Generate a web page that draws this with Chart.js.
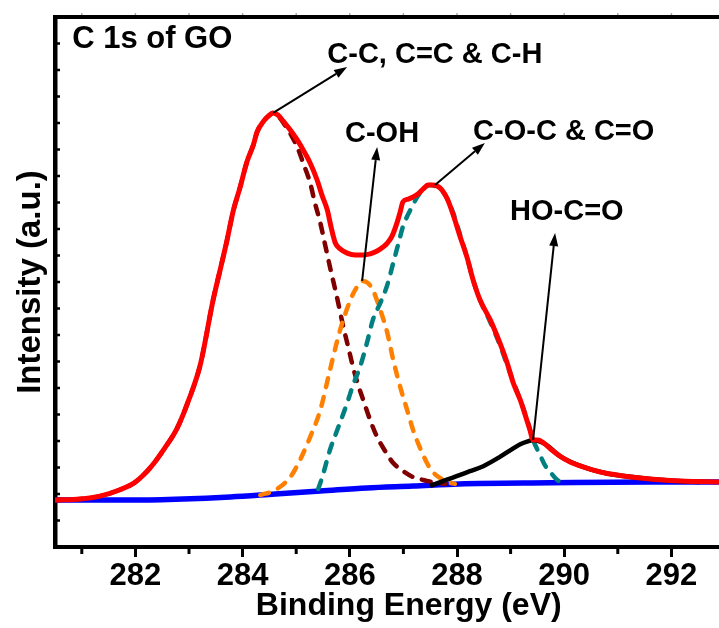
<!DOCTYPE html>
<html>
<head>
<meta charset="utf-8">
<script src="https://cdn.jsdelivr.net/npm/chart.js@4.4.1/dist/chart.umd.min.js"></script>
<style>
  html, body { margin: 0; padding: 0; background: #fff; }
  #wrap { width: 719px; height: 628px; overflow: hidden; position: relative; }
  canvas { display: block; }
</style>
</head>
<body>
<div id="wrap"><canvas id="c" width="740" height="628"></canvas></div>
<script>
// ---- Data (binding energy in eV, intensity in a.u.) ----
const X_TICK_LABELS = [282, 284, 286, 288, 290, 292];
const X_MINOR_TICKS = [281, 283, 285, 287, 289, 291, 293];
const X_TOP_TICKS = [281, 282, 283, 284, 285, 286, 287, 288, 289, 290, 291, 292, 293];

const ENERGY_TOTAL = [280.50, 280.97, 281.34, 281.70, 282.00, 282.29, 282.55, 282.78, 282.98, 283.21, 283.45, 283.58, 283.71, 283.82, 283.95, 284.08, 284.20, 284.27, 284.38, 284.48, 284.57, 284.66, 284.77, 284.89, 285.02, 285.13, 285.26, 285.39, 285.48, 285.58, 285.65, 285.73, 285.82, 285.95, 286.10, 286.25, 286.38, 286.51, 286.62, 286.70, 286.79, 286.88, 286.94, 286.99, 287.09, 287.18, 287.27, 287.37, 287.46, 287.54, 287.63, 287.72, 287.82, 287.93, 288.06, 288.19, 288.30, 288.43, 288.62, 288.80, 288.93, 289.05, 289.18, 289.29, 289.36, 289.42, 289.51, 289.64, 289.77, 289.92, 290.11, 290.30, 290.48, 290.76, 291.10, 291.60, 292.16, 293.00];
const INTENSITY_TOTAL = [1.77, 1.81, 1.92, 2.15, 2.45, 3.02, 3.74, 4.49, 5.47, 6.87, 9.32, 10.45, 11.58, 12.64, 13.55, 14.53, 15.17, 15.66, 16.04, 16.26, 16.38, 16.30, 16.04, 15.74, 15.36, 14.98, 14.49, 13.85, 13.28, 12.72, 12.08, 11.47, 11.25, 11.09, 11.02, 11.02, 11.06, 11.17, 11.32, 11.47, 11.74, 12.23, 12.64, 13.02, 13.13, 13.21, 13.32, 13.51, 13.66, 13.66, 13.62, 13.47, 13.13, 12.53, 11.70, 10.91, 10.08, 9.32, 8.57, 7.70, 6.98, 6.19, 5.55, 4.87, 4.42, 4.04, 4.04, 3.89, 3.66, 3.43, 3.21, 3.06, 2.94, 2.79, 2.68, 2.57, 2.49, 2.45];

const ENERGY_BACKGROUND = [280.50, 282.00, 282.89, 283.77, 284.61, 285.45, 286.32, 287.18, 288.04, 289.74, 291.60, 293.00];
const INTENSITY_BACKGROUND = [1.77, 1.77, 1.81, 1.89, 2.00, 2.11, 2.23, 2.30, 2.38, 2.42, 2.45, 2.45];

const ENERGY_CC = [280.50, 280.97, 281.34, 281.70, 282.00, 282.29, 282.55, 282.78, 282.98, 283.21, 283.45, 283.58, 283.71, 283.82, 283.95, 284.08, 284.20, 284.27, 284.38, 284.48, 284.57, 284.79, 285.02, 285.13, 285.26, 285.35, 285.45, 285.54, 285.63, 285.76, 285.88, 285.97, 286.06, 286.15, 286.25, 286.38, 286.51, 286.66, 286.81, 286.99, 287.18, 287.37, 287.55, 287.78];
const INTENSITY_CC = [1.77, 1.81, 1.92, 2.15, 2.45, 3.02, 3.74, 4.49, 5.47, 6.87, 9.32, 10.45, 11.58, 12.64, 13.55, 14.53, 15.17, 15.66, 16.04, 16.26, 16.38, 15.92, 15.09, 14.49, 13.74, 12.98, 12.23, 11.40, 10.57, 9.43, 8.30, 7.55, 6.79, 6.15, 5.55, 4.79, 4.15, 3.62, 3.17, 2.87, 2.64, 2.53, 2.45, 2.38];

const ENERGY_COH = [284.33, 284.61, 284.89, 285.07, 285.26, 285.45, 285.63, 285.82, 286.01, 286.12, 286.23, 286.34, 286.43, 286.57, 286.70, 286.81, 286.94, 287.07, 287.18, 287.31, 287.44, 287.55, 287.69, 287.82, 287.96];
const INTENSITY_COH = [1.96, 2.15, 2.64, 3.28, 4.15, 5.17, 6.68, 8.19, 9.32, 9.77, 10.04, 9.96, 9.70, 8.94, 8.08, 7.06, 6.04, 5.17, 4.42, 3.74, 3.17, 2.83, 2.60, 2.45, 2.38];

const ENERGY_COC = [285.41, 285.48, 285.63, 285.78, 285.95, 286.06, 286.19, 286.32, 286.43, 286.57, 286.70, 286.81, 286.90, 286.99, 287.13, 287.26, 287.37, 287.50, 287.63, 287.78, 287.93, 288.06, 288.19, 288.30, 288.43, 288.62, 288.80, 288.99, 289.18, 289.31, 289.42, 289.55, 289.64, 289.74, 289.87, 289.98];
const INTENSITY_COC = [2.19, 2.60, 3.66, 4.49, 5.43, 6.11, 6.79, 7.70, 8.57, 9.21, 9.89, 10.72, 11.40, 12.08, 12.72, 13.21, 13.51, 13.66, 13.58, 13.28, 12.60, 11.77, 10.91, 10.08, 9.32, 8.49, 7.62, 6.57, 5.55, 4.79, 4.04, 3.47, 3.09, 2.83, 2.53, 2.42];

const ENERGY_COOH = [287.50, 287.69, 287.87, 288.06, 288.24, 288.49, 288.80, 289.05, 289.18, 289.31, 289.42, 289.64, 289.92, 290.30, 290.76, 291.60, 292.54];
const INTENSITY_COOH = [2.30, 2.45, 2.58, 2.72, 2.86, 3.05, 3.40, 3.72, 3.88, 3.98, 4.04, 3.89, 3.43, 3.06, 2.79, 2.57, 2.45];

// Text labels and arrows (anchored in data coordinates)
const PANEL_LABEL = 'C 1s of GO';
const PEAK_LABELS = ['C-C, C=C & C-H', 'C-OH', 'C-O-C & C=O', 'HO-C=O'];
const X_TITLE = 'Binding Energy (eV)';
const Y_TITLE = 'Intensity (a.u.)';

const toXY = (xs, ys) => xs.map((x, i) => ({ x: x, y: ys[i] }));

const annotationLayout = {
  panel: { x: 280.82, y: 18.83 },
  labels: [
    { x: 285.58, y: 18.26 },
    { x: 285.91, y: 15.28 },
    { x: 288.30, y: 15.36 },
    { x: 288.99, y: 12.34 }
  ],
  arrows: [
    { from: [284.57, 16.38], to: [285.95, 18.11] },
    { from: [286.23, 10.04], to: [286.51, 15.09] },
    { from: [287.59, 13.66], to: [288.52, 15.25] },
    { from: [289.42, 4.04], to: [289.83, 11.85] }
  ],
  xTitleCenter: 287.1
};

const FONT_FAMILY = '"Liberation Sans", Arial, Helvetica, sans-serif';

const decorPlugin = {
  id: 'decor',
  afterDraw(chart) {
    const { ctx, chartArea, scales } = chart;
    const xs = scales.x, ys = scales.y;
    ctx.save();
    // top frame line
    ctx.strokeStyle = '#000';
    ctx.lineWidth = 4;
    ctx.beginPath();
    ctx.moveTo(chartArea.left - 2, chartArea.top);
    ctx.lineTo(chartArea.right + 2, chartArea.top);
    ctx.stroke();
    // top faint ticks
    ctx.strokeStyle = '#aaa';
    ctx.lineWidth = 1.5;
    X_TOP_TICKS.forEach(v => {
      const px = xs.getPixelForValue(v);
      ctx.beginPath();
      ctx.moveTo(px, chartArea.top - 2);
      ctx.lineTo(px, chartArea.top - 4);
      ctx.stroke();
    });
    // bottom minor ticks (outward)
    ctx.strokeStyle = '#000';
    ctx.lineWidth = 3;
    X_MINOR_TICKS.forEach(v => {
      const px = xs.getPixelForValue(v);
      ctx.beginPath();
      ctx.moveTo(px, chartArea.bottom);
      ctx.lineTo(px, chartArea.bottom + 7);
      ctx.stroke();
    });
    // left inward ticks
    ctx.lineWidth = 2.5;
    ys.ticks.forEach(t => {
      if (t.value <= ys.min || t.value >= ys.max) return;
      const py = ys.getPixelForValue(t.value);
      ctx.beginPath();
      ctx.moveTo(chartArea.left, py);
      ctx.lineTo(chartArea.left + 5, py);
      ctx.stroke();
    });
    // arrows
    ctx.strokeStyle = '#000';
    ctx.fillStyle = '#000';
    ctx.lineWidth = 2;
    annotationLayout.arrows.forEach(a => {
      const x1 = xs.getPixelForValue(a.from[0]), y1 = ys.getPixelForValue(a.from[1]);
      const x2 = xs.getPixelForValue(a.to[0]), y2 = ys.getPixelForValue(a.to[1]);
      const ang = Math.atan2(y2 - y1, x2 - x1);
      const hl = 13, hw = 4.5;
      const bx = x2 - hl * Math.cos(ang), by = y2 - hl * Math.sin(ang);
      ctx.beginPath();
      ctx.moveTo(x1, y1);
      ctx.lineTo(bx, by);
      ctx.stroke();
      ctx.beginPath();
      ctx.moveTo(x2, y2);
      ctx.lineTo(bx + hw * Math.sin(ang), by - hw * Math.cos(ang));
      ctx.lineTo(bx - hw * Math.sin(ang), by + hw * Math.cos(ang));
      ctx.closePath();
      ctx.fill();
    });
    // labels
    ctx.fillStyle = '#000';
    ctx.textBaseline = 'alphabetic';
    ctx.textAlign = 'left';
    ctx.font = 'bold 31px ' + FONT_FAMILY;
    ctx.fillText(PANEL_LABEL, xs.getPixelForValue(annotationLayout.panel.x), ys.getPixelForValue(annotationLayout.panel.y));
    ctx.font = 'bold 29px ' + FONT_FAMILY;
    PEAK_LABELS.forEach((txt, i) => {
      const p = annotationLayout.labels[i];
      ctx.fillText(txt, xs.getPixelForValue(p.x), ys.getPixelForValue(p.y));
    });
    // x axis title
    ctx.font = 'bold 32px ' + FONT_FAMILY;
    ctx.textAlign = 'center';
    ctx.fillText(X_TITLE, xs.getPixelForValue(annotationLayout.xTitleCenter), chartArea.bottom + 68);
    ctx.restore();
  }
};

const lineDs = (label, xs, ys, color, width, dashed, order) => ({
  label: label,
  data: toXY(xs, ys),
  borderColor: color,
  backgroundColor: color,
  borderWidth: width,
  borderDash: dashed ? [9, 10] : [],
  borderCapStyle: dashed ? 'round' : 'butt',
  borderJoinStyle: 'round',
  pointRadius: 0,
  fill: false,
  cubicInterpolationMode: 'monotone',
  order: order
});

new Chart(document.getElementById('c'), {
  type: 'line',
  data: {
    datasets: [
      lineDs('Total', ENERGY_TOTAL, INTENSITY_TOTAL, '#ff0000', 5, false, 0),
      lineDs('HO-C=O', ENERGY_COOH, INTENSITY_COOH, '#000000', 4.5, false, 1),
      lineDs('C-O-C & C=O', ENERGY_COC, INTENSITY_COC, '#008080', 4.5, true, 2),
      lineDs('C-OH', ENERGY_COH, INTENSITY_COH, '#ff8000', 4.5, true, 3),
      lineDs('C-C, C=C & C-H', ENERGY_CC, INTENSITY_CC, '#800000', 4.5, true, 4),
      lineDs('Background', ENERGY_BACKGROUND, INTENSITY_BACKGROUND, '#0000ff', 5.5, false, 5)
    ]
  },
  options: {
    responsive: false,
    animation: false,
    events: [],
    layout: { padding: { top: 17, right: 15, left: 0, bottom: 0 } },
    plugins: { legend: { display: false }, tooltip: { enabled: false } },
    scales: {
      x: {
        type: 'linear',
        position: 'bottom',
        min: 280.5,
        max: 293,
        afterBuildTicks: s => { s.ticks = X_TICK_LABELS.map(v => ({ value: v })); },
        afterFit: s => { s.height = 81; },
        ticks: {
          color: '#000',
          padding: 1,
          maxRotation: 0,
          autoSkip: false,
          font: { family: FONT_FAMILY, size: 31, weight: 'bold' },
          callback: v => String(v)
        },
        grid: { display: true, drawOnChartArea: false, drawTicks: true, tickLength: 10, tickWidth: 3, tickColor: '#000', color: '#000' },
        border: { display: true, width: 4, color: '#000' },
        title: { display: false, text: X_TITLE }
      },
      y: {
        position: 'left',
        min: 0,
        max: 20,
        afterFit: s => { s.width = 55; },
        ticks: { display: false, stepSize: 1 },
        grid: { display: true, drawOnChartArea: false, drawTicks: false, tickLength: 0, color: '#000' },
        border: { display: true, width: 4.5, color: '#000' },
        title: {
          display: true,
          text: Y_TITLE,
          color: '#000',
          padding: { top: 11, bottom: 0 },
          font: { family: FONT_FAMILY, size: 33, weight: 'bold' }
        }
      }
    }
  },
  plugins: [decorPlugin]
});
</script>
</body>
</html>
